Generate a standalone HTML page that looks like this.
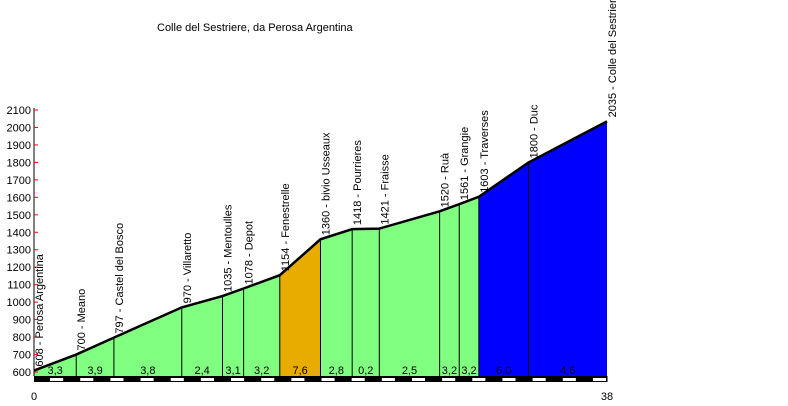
<!DOCTYPE html>
<html><head><meta charset="utf-8"><style>
body{margin:0;background:#fff;}
svg{display:block;font-family:"Liberation Sans",Arial,sans-serif;}
</style></head><body>
<svg id="chart" width="788" height="406" viewBox="0 0 788 406" xmlns="http://www.w3.org/2000/svg">
<text x="157" y="31" font-size="11">Colle del Sestriere, da Perosa Argentina</text>
<g id="g"></g>
</svg>
<script>
const kms = [0, 2.8, 5.3, 9.8, 12.5, 13.9, 16.3, 19.0, 21.1, 22.9, 26.9, 28.2, 29.5, 32.8, 38];
const elevations = [608, 700, 797, 970, 1035, 1078, 1154, 1360, 1418, 1421, 1520, 1561, 1603, 1800, 2035];
const placeNames = ["Perosa Argentina","Meano","Castel del Bosco","Villaretto","Mentoulles","Depot","Fenestrelle","bivio Usseaux","Pourrieres","Fraisse","Ruà","Grangie","Traverses","Duc","Colle del Sestriere"];
const gradients = ["3,3","3,9","3,8","2,4","3,1","3,2","7,6","2,8","0,2","2,5","3,2","3,2","6,0","4,6"];
const yTicks = [600,700,800,900,1000,1100,1200,1300,1400,1500,1600,1700,1800,1900,2000,2100];
const xTickLabels = ["0","38"];

const NS="http://www.w3.org/2000/svg";
const g=document.getElementById('g');
const X=k=>34+(k/38)*573;
const Y=e=>372-(e-600)*(262/1500);
const BASE=376;
function mk(t,a){const e=document.createElementNS(NS,t);for(const k in a)e.setAttribute(k,a[k]);g.appendChild(e);return e;}
function col(gr){const v=parseFloat(gr.replace(',','.'));if(v>=7)return '#e8ac00';if(v>=5)return '#0000ff';if(v>=4)return '#0000ff';return '#80ff80';}
// segments
for(let i=0;i<gradients.length;i++){
  let c=col(gradients[i]); if(i==gradients.length-1) c='#0000ff';
  const x0=X(kms[i]),x1=X(kms[i+1]);
  const p=mk('polygon',{points:`${x0},${BASE} ${x0},${Y(elevations[i])} ${x1},${Y(elevations[i+1])} ${x1},${BASE}`,fill:c,stroke:'none'});
  
  
  if(i>0){const l=mk('line',{x1:x0,x2:x0,y1:Y(elevations[i]),y2:BASE,stroke:'#000','stroke-width':1});
    
    }
  const t=mk('text',{x:(x0+x1)/2,y:374,'font-size':11,'text-anchor':'middle'});
  t.textContent=gradients[i];
  
  
}
// profile line
const pl=mk('polyline',{points:kms.map((k,i)=>X(k)+','+Y(elevations[i])).join(' '),fill:'none',stroke:'#000','stroke-width':2.5});


// distance strip
for(let k=0;k<38;k++){
  const x0=X(k),x1=X(k+1);
  const r=mk('rect',{x:x0,y:376,width:x1-x0+0.5,height:6,fill:'#000'});
  
  
  if(k%2==1){const w=mk('rect',{x:x0+1,y:378,width:x1-x0-2,height:3,fill:'#fff'});
    
    }
}
// y axis
const ax=mk('line',{x1:34,x2:34,y1:108,y2:376,stroke:'#000','stroke-width':1});


yTicks.forEach(v=>{
  const y=Y(v);
  const tk=mk('line',{x1:34,x2:38,y1:y,y2:y,stroke:'#f00','stroke-width':1});
  
  
  const t=mk('text',{x:31,y:y+4,'font-size':11,'text-anchor':'end'});
  t.textContent=v;
  
  
});
// x labels
[0,38].forEach((k,i)=>{
  const t=mk('text',{x:X(k),y:400,'font-size':11,'text-anchor':'middle'});
  t.textContent=xTickLabels[i];
  
  
});
// place labels
kms.forEach((k,i)=>{
  const x=X(k)+9, y=Y(elevations[i])-4;
  const t=mk('text',{x:x,y:y,'font-size':11,transform:`rotate(-90 ${x} ${y})`});
  t.textContent=elevations[i]+' - '+placeNames[i];
  
  
});
</script>
</body></html>
